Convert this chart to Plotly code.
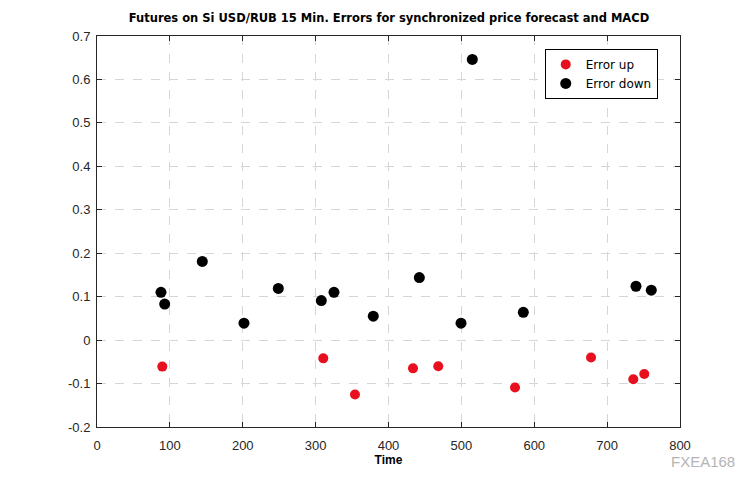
import plotly.graph_objects as go

# Error down (black)
down_x = [87.8, 92.9, 144.5, 201.7, 248.8, 307.8, 325.2, 379.1, 442.3, 499.5, 515.0, 585.0, 739.6, 760.6]
down_y = [0.110, 0.083, 0.181, 0.039, 0.119, 0.091, 0.110, 0.055, 0.144, 0.039, 0.646, 0.064, 0.124, 0.115]

# Error up (red)
up_x = [89.6, 310.5, 354.0, 433.6, 468.3, 573.6, 677.9, 735.9, 751.0]
up_y = [-0.061, -0.042, -0.125, -0.065, -0.060, -0.109, -0.040, -0.090, -0.078]

x_ticks = [0, 100, 200, 300, 400, 500, 600, 700, 800]
y_ticks = [-0.2, -0.1, 0, 0.1, 0.2, 0.3, 0.4, 0.5, 0.6, 0.7]
y_tick_text = ["-0.2", "-0.1", "0", "0.1", "0.2", "0.3", "0.4", "0.5", "0.6", "0.7"]

fig = go.Figure()
fig.add_trace(go.Scatter(
    x=up_x, y=up_y, mode="markers", name="Error up",
    marker=dict(symbol="circle", size=10, color="#e8101e", line=dict(width=0)),
))
fig.add_trace(go.Scatter(
    x=down_x, y=down_y, mode="markers", name="Error down",
    marker=dict(symbol="circle", size=11, color="#000000", line=dict(width=0)),
))

axis_common = dict(
    showline=True, linecolor="#262626", linewidth=1, mirror="ticks",
    ticks="inside", ticklen=5, tickcolor="#262626",
    showgrid=True, gridcolor="#d6d6d6", griddash="dash", gridwidth=1,
    zeroline=False,
    tickfont=dict(family="Liberation Sans, Arial", size=13, color="#262626"),
)

fig.update_xaxes(range=[0, 800], tickvals=x_ticks, **axis_common, ticklabelstandoff=6,
                 title=dict(text="<b>Time</b>", font=dict(family="Liberation Sans, Arial", size=12, color="#000000"), standoff=2))
fig.update_yaxes(range=[-0.2, 0.7], tickvals=y_ticks, ticktext=y_tick_text, **axis_common,
                 ticklabelstandoff=3)

fig.update_layout(
    width=750, height=480,
    margin=dict(l=89, r=78, t=28, b=61),
    paper_bgcolor="white", plot_bgcolor="white",
    title=dict(text="<b>Futures on Si USD/RUB 15 Min. Errors for synchronized price forecast and MACD</b>",
               x=0.508, xanchor="center", y=0.979, yanchor="middle",
               font=dict(family="DejaVu Sans, Verdana", size=11.5, color="#000000")),
    legend=dict(x=0.768, y=0.967, xanchor="left", yanchor="top",
                bgcolor="white", bordercolor="#000000", borderwidth=1,
                font=dict(family="DejaVu Sans, Verdana", size=12, color="#000000"),
                itemwidth=30, tracegroupgap=0),
    showlegend=True,
    annotations=[dict(text="FXEA168", xref="paper", yref="paper", x=1.098, y=-0.0895,
                      xanchor="right", yanchor="middle", showarrow=False,
                      font=dict(family="Liberation Sans, Arial", size=15, color="#b4b4b4"))],
)

fig.write_html("out.html")
